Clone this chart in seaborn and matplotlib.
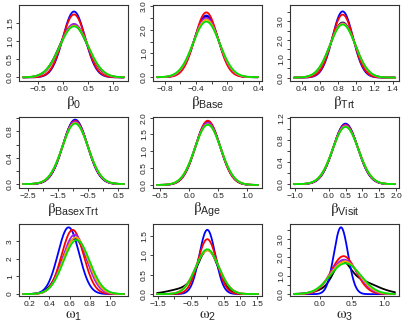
import numpy as np
import pandas as pd
import matplotlib
matplotlib.use('Agg')
import matplotlib.pyplot as plt
import seaborn as sns

# six chains, drawn in this order (green ends up on top)
chains = ['chain1', 'chain2', 'chain3', 'chain4', 'chain5', 'chain6']
chain_colors = ['black', 'blue', 'red', '#A020F0', '#FFA500', '#00E000']

param_labels = [r'$\beta_0$', r'$\beta_{\mathsf{Base}}$', r'$\beta_{\mathsf{Trt}}$',
                r'$\beta_{\mathsf{BasexTrt}}$', r'$\beta_{\mathsf{Age}}$', r'$\beta_{\mathsf{Visit}}$',
                r'$\omega_1$', r'$\omega_2$', r'$\omega_3$']

# posterior centres and peak heights (one per chain)
b0_means = [0.21, 0.22, 0.22, 0.22, 0.22, 0.22]
b0_peaks = [1.45, 1.82, 1.74, 1.48, 1.43, 1.41]
base_means = [-0.27, -0.27, -0.27, -0.27, -0.27, -0.27]
base_peaks = [2.55, 2.60, 2.73, 2.50, 2.42, 2.34]
trt_means = [0.85, 0.85, 0.85, 0.85, 0.85, 0.85]
trt_peaks = [2.93, 3.52, 3.35, 2.90, 2.86, 2.82]
bxt_means = [-0.93, -0.93, -0.93, -0.93, -0.93, -0.93]
bxt_peaks = [0.97, 0.98, 0.96, 0.95, 0.93, 0.92]
age_means = [0.32, 0.32, 0.32, 0.32, 0.32, 0.32]
age_peaks = [1.86, 1.88, 1.91, 1.85, 1.80, 1.79]
visit_means = [0.50, 0.50, 0.50, 0.50, 0.50, 0.50]
visit_peaks = [1.09, 1.10, 1.08, 1.07, 1.05, 1.04]
om1_means = [0.65, 0.59, 0.63, 0.65, 0.66, 0.67]
om1_peaks = [3.15, 3.79, 3.65, 3.37, 3.22, 3.07]
om2_means = [0.02, 0.00, 0.00, 0.00, 0.00, 0.00]
om2_peaks = [1.29, 1.65, 1.41, 1.13, 1.12, 1.15]
om3_means = [0.34, 0.33, 0.37, 0.38, 0.39, 0.40]
om3_peaks = [3.2, 3.64, 2.07, 1.88, 1.78, 1.68]

# the black chain is skewed for omega2 / omega3: (weight, mean, sd) of its extra tail
om2_black_tail = [0.15, -0.70, 0.45]
om3_black_tail = [0.66, 0.52, 0.32]

all_means = [b0_means, base_means, trt_means, bxt_means, age_means, visit_means,
             om1_means, om2_means, om3_means]
all_peaks = [b0_peaks, base_peaks, trt_peaks, bxt_peaks, age_peaks, visit_peaks,
             om1_peaks, om2_peaks, om3_peaks]
black_tails = {7: om2_black_tail, 8: om3_black_tail}

xlims = [(-0.87, 1.29), (-0.95, 0.44), (0.27, 1.47), (-2.8, 0.83), (-0.62, 1.25),
         (-1.15, 2.09), (0.098, 1.18), (-1.64, 1.65), (-0.46, 1.23)]
ylims = [(-0.1, 2.0), (-0.16, 3.04), (-0.18, 3.86), (-0.06, 1.02), (-0.09, 2.02),
         (-0.07, 1.22), (-0.11, 3.98), (-0.05, 1.8), (-0.1, 3.82)]

xticks = [[-0.5, 0.0, 0.5, 1.0],
          [-0.8, -0.6, -0.4, -0.2, 0.0, 0.2, 0.4],
          [0.4, 0.6, 0.8, 1.0, 1.2, 1.4],
          [-2.5, -2.0, -1.5, -1.0, -0.5, 0.0, 0.5],
          [-0.5, 0.0, 0.5, 1.0],
          [-1.0, -0.5, 0.0, 0.5, 1.0, 1.5, 2.0],
          [0.2, 0.4, 0.6, 0.8, 1.0],
          [-1.5, -1.0, -0.5, 0.0, 0.5, 1.0, 1.5],
          [0.0, 0.5, 1.0]]
xticklabels = [['\u22120.5', '0.0', '0.5', '1.0'],
               ['\u22120.8', '', '\u22120.4', '', '0.0', '', '0.4'],
               ['0.4', '0.6', '0.8', '1.0', '1.2', '1.4'],
               ['\u22122.5', '', '\u22121.5', '', '\u22120.5', '', '0.5'],
               ['\u22120.5', '0.0', '0.5', '1.0'],
               ['\u22121.0', '', '0.0', '0.5', '1.0', '1.5', '2.0'],
               ['0.2', '0.4', '0.6', '0.8', '1.0'],
               ['\u22121.5', '', '\u22120.5', '', '0.5', '1.0', '1.5'],
               ['0.0', '0.5', '1.0']]
yticks = [[0.0, 0.5, 1.0, 1.5],
          [0.0, 0.5, 1.0, 1.5, 2.0, 2.5, 3.0],
          [0.0, 0.5, 1.0, 1.5, 2.0, 2.5, 3.0, 3.5],
          [0.0, 0.2, 0.4, 0.6, 0.8, 1.0],
          [0.0, 0.5, 1.0, 1.5, 2.0],
          [0.0, 0.2, 0.4, 0.6, 0.8, 1.0, 1.2],
          [0, 1, 2, 3],
          [0.0, 0.5, 1.0, 1.5],
          [0.0, 0.5, 1.0, 1.5, 2.0, 2.5, 3.0, 3.5]]
yticklabels = [['0.0', '0.5', '1.0', '1.5'],
               ['0.0', '', '1.0', '', '2.0', '', '3.0'],
               ['0.0', '', '1.0', '', '2.0', '', '3.0', ''],
               ['0.0', '', '0.4', '', '0.8', ''],
               ['0.0', '0.5', '1.0', '1.5', '2.0'],
               ['0.0', '', '0.4', '', '0.8', '', '1.2'],
               ['0', '1', '2', '3'],
               ['0.0', '0.5', '1.0', '1.5'],
               ['0.0', '', '1.0', '', '2.0', '', '3.0', '']]


def normal_pdf(x, mu, sd):
    return np.exp(-0.5 * ((x - mu) / sd) ** 2) / (sd * np.sqrt(2 * np.pi))


def panel_frame(k):
    lo, hi = xlims[k]
    pad = (hi - lo) * 0.037
    xs = np.linspace(lo + pad, hi - pad, 400)
    rows = []
    for j, ch in enumerate(chains):
        sd = 1.0 / (all_peaks[k][j] * np.sqrt(2 * np.pi))
        dens = normal_pdf(xs, all_means[k][j], sd)
        if j == 0 and k in black_tails:
            w, m, s = black_tails[k]
            dens = (1 - w) * dens + w * normal_pdf(xs, m, s)
        rows.append(pd.DataFrame({'x': xs, 'density': dens, 'chain': ch}))
    return pd.concat(rows, ignore_index=True)


sns.set_style('ticks')
plt.rcParams['font.family'] = ['Liberation Sans', 'DejaVu Sans']
plt.rcParams['mathtext.fontset'] = 'custom'
plt.rcParams['mathtext.rm'] = 'Liberation Sans'
plt.rcParams['mathtext.sf'] = 'Liberation Sans'
plt.rcParams['mathtext.it'] = 'STIXGeneral'

W, H = 407, 326
fig = plt.figure(figsize=(W / 100, H / 100), dpi=100)

lefts = [19, 153, 290]
tops = [5, 117, 224]
heights = [76, 71, 72]
width = 109

for k in range(9):
    r, c = divmod(k, 3)
    ax = fig.add_axes([lefts[c] / W, 1 - (tops[r] + heights[r]) / H, width / W, heights[r] / H])
    df = panel_frame(k)
    sns.lineplot(data=df, x='x', y='density', hue='chain', hue_order=chains,
                 palette=chain_colors, legend=False, linewidth=1.3, ax=ax)
    ax.set_xlim(xlims[k])
    ax.set_ylim(ylims[k])
    ax.set_xticks(xticks[k])
    ax.set_xticklabels(xticklabels[k], fontsize=6)
    ax.set_yticks(yticks[k])
    ax.set_yticklabels(yticklabels[k], fontsize=6, rotation=90, va='center')
    ax.tick_params(length=2.2, width=0.6, pad=1.5, colors='#222222')
    ax.set_xlabel(param_labels[k], fontsize=11, labelpad=0.5)
    ax.set_ylabel('')
    for sp in ax.spines.values():
        sp.set_visible(True)
        sp.set_color('#333333')
        sp.set_linewidth(0.8)

fig.savefig('out.png', dpi=100)
